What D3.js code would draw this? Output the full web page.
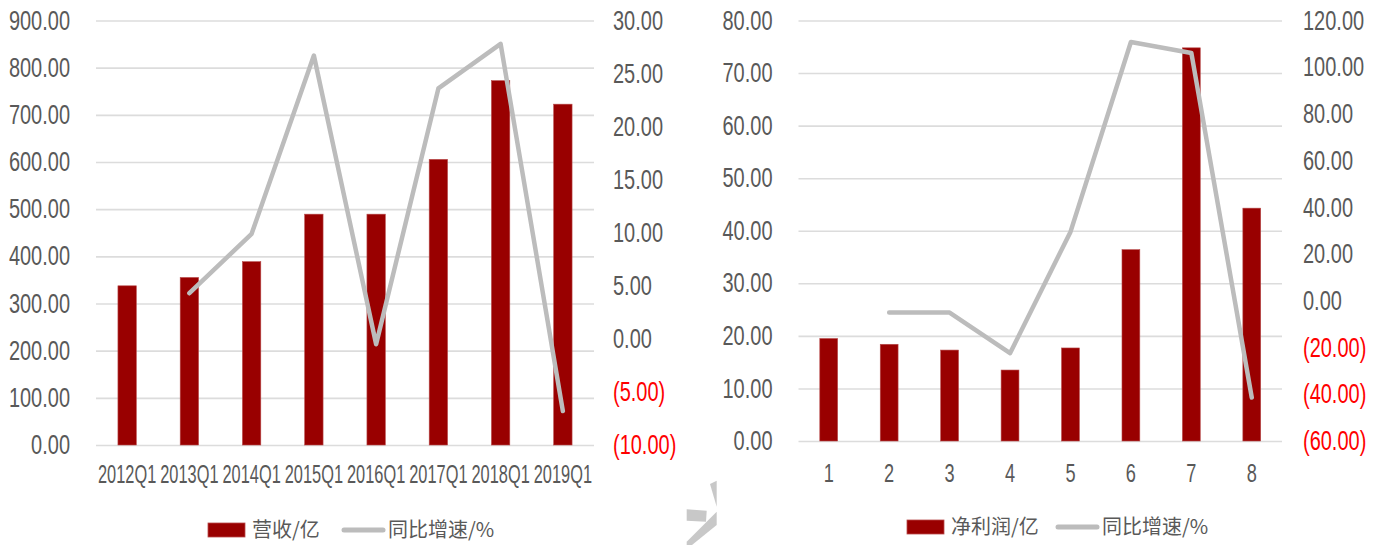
<!DOCTYPE html>
<html>
<head>
<meta charset="utf-8">
<script src="https://cdn.jsdelivr.net/npm/d3@7"></script>
<style>
  html, body { margin: 0; padding: 0; background: #fff; }
  svg { display: block; }
</style>
</head>
<body>
<svg id="chart" width="1382" height="545"></svg>
<script>
// Revenue by first quarter (亿元) and year-on-year growth (%)
const quarters = ["2012Q1", "2013Q1", "2014Q1", "2015Q1", "2016Q1", "2017Q1", "2018Q1", "2019Q1"];
const revenue = [337.5, 355.2, 388.7, 489.4, 489.4, 605.6, 772.5, 722.6];
const revenueYoY = [null, 4.3, 9.9, 26.7, -0.5, 23.6, 27.8, -6.8];
const revenueTicks = [0, 100, 200, 300, 400, 500, 600, 700, 800, 900];
const revenueYoYTicks = [-10, -5, 0, 5, 10, 15, 20, 25, 30];
const revenueLegend = ["营收/亿", "同比增速/%"];

// Net profit by period (亿元) and year-on-year growth (%)
const periods = ["1", "2", "3", "4", "5", "6", "7", "8"];
const profit = [19.5, 18.4, 17.3, 13.5, 17.7, 36.4, 74.8, 44.3];
const profitYoY = [null, -5.0, -5.0, -22.4, 29.5, 110.8, 106.1, -41.4];
const profitTicks = [0, 10, 20, 30, 40, 50, 60, 70, 80];
const profitYoYTicks = [-60, -40, -20, 0, 20, 40, 60, 80, 100, 120];
const profitLegend = ["净利润/亿", "同比增速/%"];

const BAR = "#990000";
const LINE = "#bcbcbc";
const GRID = "#dcdcdc";
const TEXT = "#595959";
const NEG = "#ff0000";
const NUM_FONT = "'Liberation Sans', Arial, sans-serif";
const CJK_FONT = "'Noto Sans CJK SC', sans-serif";

const svg = d3.select("#chart");

// Negative growth values are shown in accounting style: (5.00)
const fmt2 = d3.format(".2f");
const fmtAcct = v => v < 0 ? "(" + fmt2(-v) + ")" : fmt2(v);

// Narrow the tick labels horizontally while keeping their anchor position
function squeeze(sel, sx) {
  sel.selectAll("text").each(function () {
    const t = d3.select(this);
    const x = +t.attr("x") || 0;
    t.attr("x", x / sx).attr("transform", `scale(${sx},1)`);
  });
}

function drawPanel(cfg) {
  const g = svg.append("g");
  const x = d3.scaleBand().domain(cfg.cats).range(cfg.xRange);
  const yL = d3.scaleLinear().domain(cfg.leftDomain).range(cfg.yRange);
  const yR = d3.scaleLinear().domain(cfg.rightDomain).range(cfg.yRange);
  const [x0, x1] = cfg.xRange;

  // horizontal gridlines
  const grid = g.append("g").attr("transform", `translate(${x0},0)`)
    .call(d3.axisLeft(yL).tickValues(cfg.leftTicks).tickSize(-(x1 - x0)).tickFormat(""));
  grid.select(".domain").remove();
  grid.selectAll("line").attr("stroke", GRID).attr("stroke-width", 1.6);

  // bars
  const bw = x.bandwidth() * 0.295;
  g.append("g").selectAll("rect").data(cfg.bars).join("rect")
    .attr("x", (d, i) => x(cfg.cats[i]) + (x.bandwidth() - bw) / 2)
    .attr("y", d => yL(d))
    .attr("width", bw)
    .attr("height", d => yL(0) - yL(d))
    .attr("fill", BAR)
    .attr("stroke", "#b84a4a").attr("stroke-width", 0.6);

  // growth line on the secondary axis
  const line = d3.line()
    .defined(d => d != null)
    .x((d, i) => x(cfg.cats[i]) + x.bandwidth() / 2)
    .y(d => yR(d));
  g.append("path").datum(cfg.line)
    .attr("d", line)
    .attr("fill", "none")
    .attr("stroke", LINE)
    .attr("stroke-width", 4.5)
    .attr("stroke-linejoin", "round")
    .attr("stroke-linecap", "round");

  // left axis labels
  const la = g.append("g").attr("transform", `translate(${x0},0)`)
    .call(d3.axisLeft(yL).tickValues(cfg.leftTicks).tickSize(0).tickPadding(cfg.leftPad).tickFormat(fmt2));
  la.select(".domain").remove();
  la.selectAll("text").attr("font-family", NUM_FONT).attr("font-size", 27).attr("fill", TEXT);
  squeeze(la, 0.74);

  // right axis labels
  const ra = g.append("g").attr("transform", `translate(${x1},0)`)
    .call(d3.axisRight(yR).tickValues(cfg.rightTicks).tickSize(0).tickPadding(cfg.rightPad).tickFormat(fmtAcct));
  ra.select(".domain").remove();
  ra.selectAll("text").attr("font-family", NUM_FONT).attr("font-size", 27)
    .attr("fill", d => d < 0 ? NEG : TEXT);
  squeeze(ra, 0.74);

  // category labels
  const ba = g.append("g").attr("transform", `translate(0,${yL(0)})`)
    .call(d3.axisBottom(x).tickSize(0).tickPadding(cfg.bottomPad));
  ba.select(".domain").remove();
  ba.selectAll("text").attr("font-family", NUM_FONT).attr("font-size", 26).attr("fill", TEXT);
  squeeze(ba, cfg.catSqueeze);

  // legend
  const lg = g.append("g").attr("transform", `translate(${cfg.legendX},${cfg.legendY})`);
  lg.append("rect").attr("x", 0).attr("y", -7).attr("width", 37).attr("height", 14)
    .attr("fill", BAR).attr("stroke", "#b84a4a").attr("stroke-width", 0.8);
  lg.append("text").attr("x", 44).attr("y", 0).attr("dy", "0.36em")
    .attr("font-family", CJK_FONT).attr("font-size", 20).attr("fill", TEXT)
    .text(cfg.legend[0]);
  lg.append("line").attr("x1", cfg.legendLineX).attr("x2", cfg.legendLineX + 39)
    .attr("y1", 0).attr("y2", 0)
    .attr("stroke", LINE).attr("stroke-width", 5).attr("stroke-linecap", "round");
  lg.append("text").attr("x", cfg.legendLineX + 44).attr("y", 0).attr("dy", "0.36em")
    .attr("font-family", CJK_FONT).attr("font-size", 20).attr("fill", TEXT)
    .text(cfg.legend[1]);
}

drawPanel({
  cats: quarters, bars: revenue, line: revenueYoY,
  xRange: [96, 594], yRange: [445, 20.5],
  leftDomain: [0, 900], rightDomain: [-10, 30],
  leftTicks: revenueTicks, rightTicks: revenueYoYTicks,
  leftPad: 26, rightPad: 19, bottomPad: 20, catSqueeze: 0.63,
  legend: revenueLegend, legendX: 208, legendY: 530, legendLineX: 136
});

drawPanel({
  cats: periods, bars: profit, line: profitYoY,
  xRange: [798.5, 1282], yRange: [441, 20.5],
  leftDomain: [0, 80], rightDomain: [-60, 120],
  leftTicks: profitTicks, rightTicks: profitYoYTicks,
  leftPad: 26, rightPad: 21, bottomPad: 23, catSqueeze: 0.7,
  legend: profitLegend, legendX: 907, legendY: 527, legendLineX: 151
});

// faint grey emblem fragment at the lower centre
const emblem = svg.append("g").attr("fill", "#c8c8c8");
emblem.append("polygon").attr("points", "710,484 716.7,480.7 716.7,506.7");
emblem.append("polygon").attr("points", "686.7,509.3 706.7,510.7 706,521.7 686.7,520.7");
emblem.append("polygon").attr("points", "686.7,541.7 716.7,511.7 716.7,525 692,545 686.7,545");
</script>
</body>
</html>
